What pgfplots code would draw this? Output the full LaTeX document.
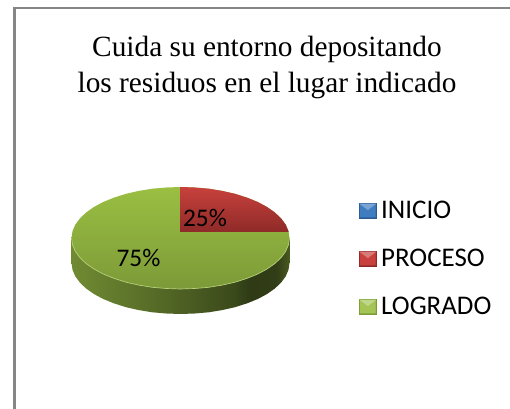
\documentclass[border=0pt]{standalone}
\usepackage{pgfplots}
\pgfplotsset{compat=1.18}
\usepackage{fontspec}
\setmainfont{Carlito}
\newfontfamily\titlefont{Liberation Serif}
\definecolor{frameGray}{HTML}{868686}
\definecolor{inicioBlue}{HTML}{3F7DC0}
\definecolor{inicioDark}{HTML}{2A5A94}
\definecolor{procesoRed}{HTML}{C8413C}
\definecolor{procesoDark}{HTML}{8E2A28}
\definecolor{logradoGreen}{HTML}{9ABF42}
\definecolor{logradoDark}{HTML}{7C9A38}
\pgfdeclarehorizontalshading{pieside}{100bp}{
  color(0bp)=(logradoDark!90!black);
  color(25bp)=(logradoDark!90!black);
  color(42bp)=(logradoDark!72!black);
  color(62bp)=(logradoDark!48!black);
  color(66bp)=(logradoDark!38!black);
  color(72bp)=(logradoDark!40!black);
  color(75bp)=(logradoDark!58!black);
  color(100bp)=(logradoDark!58!black)}
\newcommand{\swatch}[2]{%
  \path (15pt,0pt);
  \fill[#2] (0pt,-5.6pt) rectangle (12.8pt,5.6pt);
  \fill[#1] (0.7pt,-4.9pt) -- (12.1pt,-4.9pt) -- (12.1pt,4.9pt) -- (6.4pt,0.6pt) -- (0.7pt,4.9pt) -- cycle;
  \fill[#1!70!white] (0.7pt,4.9pt) -- (12.1pt,4.9pt) -- (6.4pt,0.6pt) -- cycle;}
\begin{document}
\begin{tikzpicture}
\begin{axis}[
    scale only axis, width=382.5pt, height=306.75pt,
    xmin=0, xmax=510, ymin=0, ymax=409, y dir=reverse,
    hide axis, clip=true,
    legend cell align=left,
    legend style={at={(0.704,0.513)}, anchor=north west, draw=none, fill=none,
      font=\fontsize{20.2pt}{21pt}\selectfont, inner sep=0pt, outer sep=0pt,
      row sep=19pt, nodes={inner sep=1.2pt}},
  ]
  % hidden axis adds no bounding box of its own
  \path (rel axis cs:0,0) (rel axis cs:1,1);

  % frame of the chart area, open on the right and at the bottom
  \addplot[forget plot, frameGray, line width=1.6pt, mark=none]
    coordinates {(14.5,409) (14.5,8) (510,8)};

  % side of the pie
  \addplot[forget plot, draw=none, shading=pieside, mark=none] coordinates {
    (71.5,238) (71.5,263) (72.5,269.7) (75.2,276.2) (79.8,282.5) (86.1,288.5) (94.1,294.1)
    (103.4,299.1) (114.1,303.4) (126,307.2) (138.8,310.1) (152.3,312.3) (166.3,313.5)
    (180.5,314) (194.7,313.5) (208.7,312.3) (222.2,310.1) (235,307.2) (246.9,303.4)
    (257.6,299.1) (266.9,294.1) (274.9,288.5) (281.2,282.5) (285.8,276.2) (288.5,269.7)
    (289.5,263) (289.5,238)} -- cycle;

  % LOGRADO 75 %
  \addplot[forget plot, draw=none, top color=logradoGreen, bottom color=logradoDark, mark=none] coordinates {
    (71.5,238) (72.5,244.7) (75.2,251.2) (79.8,257.5) (86.1,263.5) (94.1,269.1)
    (103.4,274.1) (114.1,278.4) (126,282.2) (138.8,285.1) (152.3,287.3) (166.3,288.5)
    (180.5,289) (194.7,288.5) (208.7,287.3) (222.2,285.1) (235,282.2) (246.9,278.4)
    (257.6,274.1) (266.9,269.1) (274.9,263.5) (281.2,257.5) (285.8,251.2) (288.5,244.7)
    (289.5,238) (288.5,231.3) (285.8,224.8) (281.2,218.5) (274.9,212.5) (266.9,206.9)
    (257.6,201.9) (246.9,197.6) (235,193.8) (222.2,190.9) (208.7,188.7) (194.7,187.5)
    (180.5,187) (166.3,187.5) (152.3,188.7) (138.8,190.9) (126,193.8) (114.1,197.6)
    (103.4,201.9) (94.1,206.9) (86.1,212.5) (79.8,218.5) (75.2,224.8) (72.5,231.3)} -- cycle;

  % light rim along the front edge
  \addplot[forget plot, logradoGreen!70!white, line width=0.5pt, mark=none] coordinates {
    (71.5,238) (72.5,244.7) (75.2,251.2) (79.8,257.5) (86.1,263.5) (94.1,269.1)
    (103.4,274.1) (114.1,278.4) (126,282.2) (138.8,285.1) (152.3,287.3) (166.3,288.5)
    (180.5,289) (194.7,288.5) (208.7,287.3) (222.2,285.1) (235,282.2) (246.9,278.4)
    (257.6,274.1) (266.9,269.1) (274.9,263.5) (281.2,257.5) (285.8,251.2) (288.5,244.7)
    (289.5,238)};

  % PROCESO 25 %
  \addplot[forget plot, draw=none, top color=procesoRed, bottom color=procesoDark, mark=none] coordinates {
    (180.5,232) (180.5,187) (194.7,187.5) (208.7,188.7) (222.2,190.9) (235,193.8)
    (246.9,197.6) (257.6,201.9) (266.9,206.9) (274.9,212.5) (281.2,218.5)
    (285.8,224.8) (288.5,231.3) (288.7,232)} -- cycle;

  \node[font=\fontsize{19pt}{21pt}\selectfont, text=black] at (axis cs:205,218) {25\%};
  \node[font=\fontsize{19pt}{21pt}\selectfont, text=black] at (axis cs:138.5,257.5) {75\%};

  \node[font=\titlefont\fontsize{22pt}{27pt}\selectfont, align=center, text=black]
    at (axis cs:267,67) {Cuida su entorno depositando\\los residuos en el lugar indicado};

  \addlegendimage{legend image code/.code={\swatch{inicioBlue}{inicioDark}}}
  \addlegendentry{INICIO}
  \addlegendimage{legend image code/.code={\swatch{procesoRed}{procesoDark}}}
  \addlegendentry{PROCESO}
  \addlegendimage{legend image code/.code={\swatch{logradoGreen!90!white}{logradoDark}}}
  \addlegendentry{LOGRADO}
\end{axis}
\end{tikzpicture}
\end{document}
